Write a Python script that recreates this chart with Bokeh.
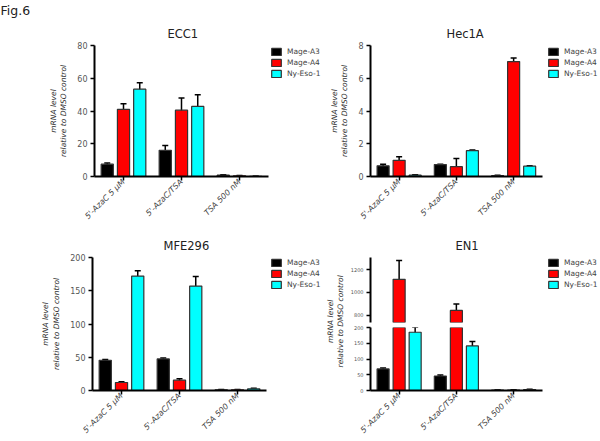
import math
from bokeh.plotting import figure
from bokeh.models import (FactorRange, Range1d, FixedTicker, Whisker, TeeHead,
                          ColumnDataSource, Legend, LegendItem, Label)
from bokeh.transform import dodge
from bokeh.layouts import row, column
from bokeh.embed import file_html
from bokeh.resources import INLINE

treatments = ["5'-AzaC 5 µM", "5'-AzaC/TSA", "TSA 500 nM"]
genes = ["Mage-A3", "Mage-A4", "Ny-Eso-1"]
gene_colors = ["#000000", "#ff0000", "#00ffff"]
ylabel_text = "mRNA level\nrelative to DMSO control"

# ECC1 (rows: Mage-A3, Mage-A4, Ny-Eso-1; columns: treatments)
ecc1_mean = [[7.5, 16.0, 0.8], [41.0, 40.5, 0.4], [53.3, 42.8, 0.1]]
ecc1_err = [[0.7, 3.0, 0.2], [3.5, 7.5, 0.2], [4.0, 7.2, 0.05]]
ecc1_ticks = [0, 20, 40, 60, 80]

# Hec1A
hec_mean = [[0.65, 0.73, 0.05], [0.99, 0.60, 7.02], [0.08, 1.58, 0.63]]
hec_err = [[0.10, 0.02, 0.02], [0.22, 0.50, 0.22], [0.02, 0.04, 0.03]]
hec_ticks = [0, 2, 4, 6, 8]

# MFE296
mfe_mean = [[45.5, 47.5, 1.0], [12.0, 15.5, 1.0], [172.0, 157.0, 2.5]]
mfe_err = [[1.0, 1.5, 0.5], [1.0, 2.0, 0.5], [8.0, 14.5, 1.0]]
mfe_ticks = [0, 50, 100, 150, 200]

# EN1 (broken axis)
en1_mean = [[68.5, 46.0, 1.0], [1115.0, 843.0, 1.5], [185.0, 141.5, 3.0]]
en1_err = [[3.0, 3.0, 0.5], [165.0, 57.0, 0.5], [16.0, 14.0, 1.0]]
en1_ticks_low = [0, 50, 100, 150, 200]
en1_ticks_high = [800, 1000, 1200]
en1_low_axis = (0, 200)
en1_high_axis = (737, 1306)

offsets = [-0.28, 0.0, 0.28]
FONT = "DejaVu Sans"
SPACER = " "  # empty slot on the right of each panel that holds the legend


def make_fig(width, height, x_range, ylim, ticks, title, title_off,
             bl, bt, bb, show_x=True, ylabel=ylabel_text, tick_size="8px"):
    p = figure(width=width, height=height, x_range=x_range,
               y_range=Range1d(*ylim),
               output_backend="svg", toolbar_location=None,
               x_axis_location="below" if show_x else None,
               min_border_left=bl, min_border_right=0,
               min_border_top=bt, min_border_bottom=bb,
               title=title)
    p.outline_line_color = None
    p.grid.visible = False
    if title:
        p.title.align = "left"
        p.title.offset = title_off
        p.title.text_font = FONT
        p.title.text_font_size = "11.5px"
        p.title.text_font_style = "normal"
        p.title.text_color = "#222222"
    ya = p.yaxis[0]
    ya.ticker = FixedTicker(ticks=ticks, minor_ticks=[])
    ya.axis_line_width = 2
    ya.axis_line_color = "black"
    ya.major_tick_line_width = 1.5
    ya.major_tick_out = 4
    ya.major_tick_in = 0
    ya.minor_tick_out = 0
    ya.minor_tick_in = 0
    ya.major_label_text_font = FONT
    ya.major_label_text_font_size = tick_size
    ya.major_label_text_color = "#555555"
    ya.major_label_standoff = 3
    if ylabel:
        ya.axis_label = ylabel
        ya.axis_label_text_font = FONT
        ya.axis_label_text_font_size = "7.5px"
        ya.axis_label_text_font_style = "italic"
        ya.axis_label_text_color = "#333333"
        ya.axis_label_standoff = 6
    if show_x:
        xa = p.xaxis[0]
        xa.bounds = (0, len(treatments))
        xa.axis_line_width = 2
        xa.axis_line_color = "black"
        xa.major_tick_line_width = 1.5
        xa.major_tick_out = 4
        xa.major_tick_in = 0
        xa.major_label_orientation = math.pi / 4
        xa.major_label_text_font = FONT
        xa.major_label_text_font_size = "8px"
        xa.major_label_text_font_style = "italic"
        xa.major_label_text_color = "#444444"
        xa.major_label_standoff = 0
    return p


def bar_kw(i):
    return dict(width=0.21, fill_color=gene_colors[i], line_color="#333333",
                line_width=1.2)


def draw_bars(p, means, errs, ymin, ymax, hidden_legend=False):
    rends = []
    for i, gene in enumerate(genes):
        kb = [k for k in range(len(treatments)) if means[i][k] > ymin]
        src = ColumnDataSource(dict(t=[treatments[k] for k in kb],
                                    top=[means[i][k] for k in kb]))
        r = p.vbar(x=dodge("t", offsets[i], range=p.x_range), top="top", bottom=0,
                   source=src, **bar_kw(i))
        if hidden_legend:
            # full-data copy, not drawn, only used as the legend swatch
            full = ColumnDataSource(dict(t=treatments, top=means[i]))
            r = p.vbar(x=dodge("t", offsets[i], range=p.x_range), top="top",
                       bottom=0, source=full, visible=False, **bar_kw(i))
        rends.append(r)
        kw = [k for k in range(len(treatments)) if ymin <= means[i][k] <= ymax]
        wsrc = ColumnDataSource(dict(
            t=[treatments[k] for k in kw],
            lo=[means[i][k] - errs[i][k] for k in kw],
            hi=[means[i][k] + errs[i][k] for k in kw]))
        w = Whisker(source=wsrc, base=dodge("t", offsets[i], range=p.x_range),
                    lower="lo", upper="hi", dimension="height",
                    line_color="black", line_width=1.5,
                    upper_head=TeeHead(size=6, line_width=1.5, line_color="black"),
                    lower_head=TeeHead(size=6, line_width=1.5, line_color="black"))
        p.add_layout(w)
    return rends


def add_legend(p, rends, x, y):
    items = [LegendItem(label=g, renderers=[r]) for g, r in zip(genes, rends)]
    lg = Legend(items=items, location=(x, y), glyph_width=12, glyph_height=9,
                label_height=9, spacing=2, padding=0, margin=0,
                label_standoff=5, label_text_font=FONT,
                label_text_font_size="7.5px", label_text_color="#444444",
                inactive_fill_alpha=0,
                border_line_alpha=0, background_fill_alpha=0)
    p.add_layout(lg, "center")


def text_box(width, height, x, y, text, size, style="normal", angle=0.0,
             align="left"):
    f = figure(width=width, height=height, x_range=Range1d(0, 1),
               y_range=Range1d(0, 1), output_backend="svg",
               toolbar_location=None, x_axis_location=None,
               y_axis_location=None, min_border=0)
    f.outline_line_color = None
    f.grid.visible = False
    f.add_layout(Label(x=x, y=y, text=text, angle=angle, text_align=align,
                       text_baseline="middle", text_font=FONT,
                       text_font_size=size, text_font_style=style,
                       text_color="#222222" if style == "normal" else "#333333"))
    return f


def xr():
    return FactorRange(*(treatments + [SPACER]))


# ---- header ----
head = text_box(60, 19, 0.0, 0.5, "Fig.6", "12.5px")

# ---- top row ----
p1 = make_fig(326, 207, xr(), (0, 80), ecc1_ticks, "ECC1", 73, 94, 22, 40)
r1 = draw_bars(p1, ecc1_mean, ecc1_err, -1e9, 1e9)
add_legend(p1, r1, 176, 98)

p2 = make_fig(273, 207, xr(), (0, 8), hec_ticks, "Hec1A", 76, 44, 22, 40)
r2 = draw_bars(p2, hec_mean, hec_err, -1e9, 1e9)
add_legend(p2, r2, 177, 98)

# ---- bottom row ----
p3 = make_fig(324, 214, xr(), en1_low_axis, mfe_ticks, "MFE296", 71, 92, 31, 40)
r3 = draw_bars(p3, mfe_mean, mfe_err, -1e9, 1e9)
add_legend(p3, r3, 178, 101)

en1_x = xr()
p4a = make_fig(253, 99, en1_x, en1_high_axis, en1_ticks_high, "EN1", 85,
               24, 31, 3, show_x=False, ylabel=None, tick_size="5px")
r4 = draw_bars(p4a, en1_mean, en1_err, en1_high_axis[0], en1_high_axis[1],
               hidden_legend=True)
add_legend(p4a, r4, 177, 33)

p4b = make_fig(253, 115, en1_x, en1_low_axis, en1_ticks_low, None, 0,
               24, 2, 40, ylabel=None, tick_size="5px")
draw_bars(p4b, en1_mean, en1_err, en1_low_axis[0], en1_low_axis[1])

lab = text_box(22, 214, 0.5, 0.52, ylabel_text, "7.5px", style="italic",
               angle=math.pi / 2, align="center")

layout = column(head, row(p1, p2), row(p3, lab, column(p4a, p4b)))

open("out.html", "w").write(file_html(layout, INLINE))
